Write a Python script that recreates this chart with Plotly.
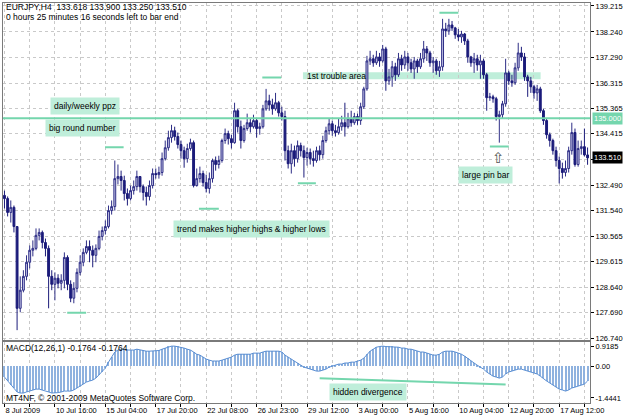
import plotly.graph_objects as go

# ---------------- data (EURJPY H4) ----------------
first_open = 132.10
close = [
131.98, 131.46, 131.65, 130.93, 127.86, 128.54, 129.06, 129.59, 130.04, 130.11,
130.60, 130.71, 130.33, 130.11, 129.06, 128.76, 128.99, 128.80, 128.91, 129.77,
128.76, 128.24, 128.61, 129.21, 129.59, 129.96, 130.18, 130.04, 129.85, 130.11,
130.56, 130.78, 130.93, 131.53, 131.68, 132.73, 132.81, 132.66, 132.17, 131.98,
132.28, 132.43, 132.81, 132.43, 132.21, 132.06, 132.47, 132.92, 132.88, 132.96,
133.48, 133.89, 134.27, 134.53, 134.31, 134.01, 133.78, 133.48, 133.86, 134.08,
132.47, 132.73, 132.92, 132.58, 132.36, 132.73, 133.41, 133.26, 133.41, 134.16,
134.42, 134.23, 134.08, 135.28, 134.68, 134.16, 134.61, 134.83, 134.68, 134.91,
134.61, 134.68, 135.35, 135.65, 135.50, 135.35, 135.58, 135.20, 135.06, 133.78,
133.29, 133.78, 133.48, 133.97, 133.78, 133.52, 133.71, 133.48, 133.41, 133.78,
133.63, 134.16, 134.53, 134.79, 134.53, 134.46, 134.68, 134.83, 134.68, 134.98,
134.83, 135.06, 134.91, 135.43, 136.10, 137.15, 137.23, 137.08, 137.30, 137.15,
137.60, 136.40, 136.55, 136.93, 136.63, 137.23, 137.00, 137.30, 137.08, 136.85,
137.15, 136.93, 137.23, 137.60, 137.45, 137.08, 137.15, 136.78, 136.93, 138.35,
138.28, 138.50, 138.39, 138.13, 138.05, 138.16, 137.90, 137.30, 137.08, 137.23,
137.00, 137.15, 136.63, 135.77, 135.80, 135.73, 135.06, 135.13, 135.54, 136.70,
136.40, 136.33, 136.89, 137.45, 137.30, 136.55, 136.40, 136.18, 135.95, 136.10,
135.28, 134.91, 134.38, 134.16, 133.78, 133.41, 133.11, 132.96, 133.11, 133.78,
134.46, 133.26, 133.86, 133.93, 133.62, 133.51]

high = [
132.28, 132.06, 131.91, 131.72, 130.93, 129.06, 129.29, 129.85, 130.22, 130.41,
130.86, 130.86, 130.78, 130.48, 130.22, 129.29, 129.21, 129.14, 129.14, 129.96,
129.85, 128.91, 128.84, 129.36, 129.85, 130.11, 130.41, 130.41, 130.22, 130.26,
130.78, 130.93, 131.16, 131.72, 131.91, 133.41, 133.26, 133.03, 132.84, 132.36,
132.47, 132.66, 133.03, 132.81, 132.51, 132.43, 132.66, 133.11, 133.11, 133.18,
133.71, 134.16, 134.53, 134.75, 134.68, 134.46, 134.16, 133.93, 134.04, 134.23,
134.16, 133.11, 133.18, 133.03, 132.88, 132.96, 133.48, 133.56, 133.59, 134.23,
134.61, 134.53, 134.38, 135.58, 135.35, 134.91, 134.75, 135.17, 134.98, 135.13,
134.98, 134.83, 135.50, 136.10, 135.88, 135.73, 135.95, 135.65, 135.43, 135.28,
133.97, 134.04, 133.97, 134.16, 134.08, 133.97, 133.89, 133.86, 133.78, 133.93,
133.97, 134.34, 134.68, 134.98, 134.91, 134.75, 134.98, 135.09, 135.58, 135.20,
135.28, 135.20, 135.17, 135.58, 136.18, 137.34, 137.53, 137.38, 137.53, 137.45,
137.75, 137.68, 136.85, 137.15, 137.08, 137.45, 137.38, 137.53, 137.45, 137.23,
137.30, 137.23, 137.45, 137.90, 137.71, 137.53, 137.30, 137.23, 137.15, 138.73,
138.58, 138.73, 138.65, 138.43, 138.35, 138.28, 138.20, 137.98, 137.34, 137.45,
137.38, 137.38, 137.23, 136.70, 135.95, 135.88, 135.80, 135.28, 135.65, 137.23,
136.78, 136.63, 137.08, 137.83, 137.68, 137.45, 136.63, 136.55, 136.25, 136.25,
136.18, 135.35, 134.98, 134.46, 134.23, 133.93, 133.56, 133.33, 133.41, 133.93,
134.83, 134.61, 134.16, 134.16, 134.61, 133.90]

low = [
131.61, 131.31, 131.08, 130.71, 127.04, 127.71, 128.46, 128.91, 129.36, 129.81,
130.04, 130.41, 130.11, 129.81, 127.86, 128.54, 128.16, 128.61, 128.54, 128.61,
128.54, 128.09, 128.05, 128.46, 129.10, 129.44, 129.89, 129.59, 129.40, 129.59,
130.04, 130.41, 130.63, 130.86, 131.38, 131.53, 132.51, 132.28, 131.91, 131.72,
131.91, 132.13, 132.28, 132.21, 131.91, 131.72, 131.91, 132.36, 132.73, 132.73,
132.84, 133.41, 133.78, 134.08, 134.16, 133.86, 133.48, 133.14, 133.33, 133.78,
132.40, 132.43, 132.58, 132.43, 132.21, 132.17, 132.58, 133.03, 133.11, 133.33,
134.04, 134.01, 133.86, 134.04, 134.46, 133.86, 134.08, 134.53, 134.46, 134.61,
134.27, 134.38, 134.61, 135.28, 135.28, 135.13, 135.28, 135.06, 134.91, 133.41,
133.11, 132.92, 133.18, 133.33, 133.56, 132.77, 133.22, 133.26, 133.18, 133.33,
133.41, 133.48, 134.08, 134.38, 134.34, 134.31, 134.38, 134.53, 134.31, 134.61,
134.68, 134.75, 134.75, 134.75, 135.35, 136.03, 137.00, 136.93, 137.00, 136.93,
137.08, 136.03, 136.25, 136.18, 136.40, 136.55, 136.78, 136.85, 136.78, 136.70,
136.48, 136.70, 136.85, 137.08, 137.15, 136.93, 136.70, 136.63, 136.55, 136.78,
138.05, 138.13, 138.28, 137.98, 137.90, 137.83, 137.75, 137.08, 136.93, 136.70,
136.78, 136.48, 136.48, 135.28, 135.65, 135.58, 134.91, 134.08, 134.98, 135.43,
136.25, 136.18, 136.25, 136.78, 137.15, 136.40, 135.80, 135.95, 135.73, 135.65,
135.20, 134.75, 134.23, 133.93, 133.63, 133.18, 132.55, 132.73, 132.81, 132.96,
133.63, 133.18, 133.18, 133.63, 133.56, 133.25]

macd = [
-0.49, -0.67, -0.85, -0.99, -1.17, -1.22, -1.22, -1.17, -1.13, -1.08,
-1.04, -1.04, -1.08, -1.10, -1.17, -1.22, -1.22, -1.20, -1.17, -1.13,
-1.13, -1.13, -1.08, -0.99, -0.90, -0.81, -0.72, -0.67, -0.63, -0.54,
-0.40, -0.26, -0.08, 0.19, 0.42, 0.65, 0.74, 0.78, 0.78, 0.74,
0.74, 0.74, 0.78, 0.74, 0.72, 0.69, 0.69, 0.69, 0.69, 0.72,
0.78, 0.83, 0.90, 0.92, 0.92, 0.90, 0.87, 0.83, 0.78, 0.74,
0.65, 0.55, 0.51, 0.42, 0.33, 0.28, 0.24, 0.24, 0.24, 0.28,
0.33, 0.37, 0.42, 0.51, 0.55, 0.55, 0.55, 0.55, 0.55, 0.60,
0.60, 0.60, 0.65, 0.69, 0.69, 0.69, 0.69, 0.69, 0.65, 0.51,
0.42, 0.33, 0.24, 0.15, 0.05, -0.04, -0.08, -0.13, -0.17, -0.22,
-0.22, -0.17, -0.13, -0.04, 0.01, 0.05, 0.10, 0.10, 0.15, 0.15,
0.19, 0.19, 0.24, 0.28, 0.37, 0.55, 0.69, 0.78, 0.87, 0.90,
0.92, 0.90, 0.90, 0.90, 0.87, 0.87, 0.83, 0.83, 0.78, 0.78,
0.74, 0.69, 0.65, 0.65, 0.60, 0.55, 0.51, 0.51, 0.55, 0.65,
0.69, 0.69, 0.69, 0.65, 0.60, 0.55, 0.46, 0.37, 0.24, 0.15,
0.05, -0.04, -0.13, -0.26, -0.35, -0.45, -0.49, -0.54, -0.49, -0.35,
-0.26, -0.22, -0.17, -0.13, -0.13, -0.17, -0.22, -0.26, -0.31, -0.35,
-0.45, -0.54, -0.67, -0.76, -0.85, -0.95, -1.04, -1.08, -1.13, -1.08,
-0.99, -0.95, -0.90, -0.85, -0.81, -0.67]

date_labels = ['8 Jul 2009', '10 Jul 16:00', '15 Jul 04:00', '17 Jul 20:00',
               '22 Jul 08:00', '26 Jul 23:00', '29 Jul 12:00', '3 Aug 00:00',
               '5 Aug 16:00', '10 Aug 04:00', '12 Aug 20:00', '17 Aug 12:00']
price_ticks = [139.215, 138.240, 137.290, 136.315, 135.365, 134.415, 133.465,
               132.490, 131.540, 130.565, 129.615, 128.640, 127.690, 126.740]
macd_ticks = [0.9185, 0.0, -1.4441]
macd_tick_text = ['0.9185', '0.00', '-1.4441']

round_level = 135.000
last_price = 133.510

# ---------------- build ----------------
opens = [first_open] + close[:-1]
hi = [max(h, o, c) for h, o, c in zip(high, opens, close)]
lo = [min(l, o, c) for l, o, c in zip(low, opens, close)]
idx = list(range(len(close)))

GREEN = '#74d6ad'
BOXBG = '#bfeeda'
GRID = '#c9c9c9'
FONT = 'Liberation Sans'

fig = go.Figure()
fig.add_trace(go.Candlestick(
    x=idx, open=opens, high=hi, low=lo, close=close,
    increasing=dict(line=dict(color='#2e2e86', width=1), fillcolor='#c6c6e8'),
    decreasing=dict(line=dict(color='#1b1b7a', width=1), fillcolor='#1b1b7a'),
    whiskerwidth=0, xaxis='x', yaxis='y', hoverinfo='skip', showlegend=False))
fig.add_trace(go.Bar(x=idx, y=macd, width=0.32,
                     marker=dict(color='#8fb2df', line=dict(width=0)),
                     xaxis='x2', yaxis='y2', showlegend=False, hoverinfo='skip'))
fig.add_trace(go.Scatter(x=idx, y=macd, mode='lines',
                         line=dict(color='#5b8fd3', width=1),
                         xaxis='x2', yaxis='y2', showlegend=False, hoverinfo='skip'))

n = len(close)
grid_vals = list(range(0, n, 8))
label_pos = [16 * i for i in range(len(date_labels))]
x_text = [date_labels[label_pos.index(v)] if v in label_pos else '' for v in grid_vals]

xr = [-0.47, 185.77]
axis_line = dict(showline=True, mirror=True, linecolor='#7a7a7a', linewidth=1, zeroline=False)

fig.update_layout(
    width=625, height=419,
    margin=dict(l=2, r=30, t=2, b=16),
    paper_bgcolor='white', plot_bgcolor='white',
    showlegend=False, bargap=0, boxgap=0.15,
    font=dict(family=FONT, size=8, color='black'),
    xaxis=dict(domain=[0, 1], anchor='y', range=xr, tickvals=grid_vals,
               showticklabels=False, ticks='', showgrid=True, gridcolor=GRID,
               griddash='dot', gridwidth=1, rangeslider=dict(visible=False),
               **axis_line),
    xaxis2=dict(domain=[0, 1], anchor='y2', range=xr, matches='x',
                tickvals=grid_vals, ticktext=x_text, ticklabelposition='outside right',
                tickangle=0, ticks='outside', ticklen=3, tickcolor='#000000',
                tickfont=dict(size=7.5, family=FONT, color='black'),
                showgrid=True, gridcolor=GRID, griddash='dot', gridwidth=1,
                **axis_line),
    yaxis=dict(domain=[0.1571, 1], anchor='x', range=[126.664, 139.325], side='right',
               tickvals=price_ticks,
               ticktext=[('%.3f' % v) if abs(v - 133.465) > 1e-6 else '' for v in price_ticks],
               ticks='outside', ticklen=3, tickcolor='#000000',
               tickfont=dict(size=7.5, family=FONT, color='black'),
               showgrid=True, gridcolor=GRID, griddash='dot', gridwidth=1,
               **axis_line),
    yaxis2=dict(domain=[0, 0.1521], anchor='x2', range=[-1.673, 1.10], side='right',
                tickvals=macd_ticks, ticktext=macd_tick_text,
                ticks='outside', ticklen=3, tickcolor='#000000',
                tickfont=dict(size=7.5, family=FONT, color='black'),
                showgrid=False, **axis_line),
)

shapes = []
# 135.000 daily/weekly level
shapes.append(dict(type='line', xref='x domain', yref='y', x0=0, x1=1,
                   y0=round_level, y1=round_level, line=dict(color=GREEN, width=2)))
# 1st trouble area band
shapes.append(dict(type='rect', xref='x', yref='y', x0=94.7, x1=170.1,
                   y0=136.46, y1=136.72, fillcolor=BOXBG, line=dict(width=0),
                   layer='below'))
# swing high/low markers
for xa, xb, p in [(19.9, 25.9, 127.69), (61.7, 68.0, 131.60), (31.9, 37.8, 133.91),
                  (81.8, 87.8, 136.53), (93.1, 98.8, 132.56), (138.0, 144.0, 138.96),
                  (154.0, 160.0, 133.94)]:
    shapes.append(dict(type='line', xref='x', yref='y', x0=xa, x1=xb, y0=p, y1=p,
                       line=dict(color=GREEN, width=2)))
# hidden divergence line in MACD
shapes.append(dict(type='line', xref='x2', yref='y2', x0=100, x1=159,
                   y0=-0.54, y1=-0.83, line=dict(color=GREEN, width=2)))
fig.update_layout(shapes=shapes)

ann = []
def box(text, x, y, xref='x', yref='y', xanchor='center'):
    ann.append(dict(text=text, x=x, y=y, xref=xref, yref=yref, xanchor=xanchor,
                    yanchor='middle', showarrow=False, bgcolor=BOXBG, borderpad=3,
                    font=dict(size=8.5, family=FONT, color='black')))

box('daily/weekly ppz', 25.6, 135.45)
box('big round number', 24.8, 134.62)
box('trend makes higher highs &amp; higher lows', 78.4, 130.84)
box('large pin bar', 152.5, 132.88)
box('hidden divergence', 115.4, -1.15, xref='x2', yref='y2')
ann.append(dict(text='1st trouble area', x=95.4, y=136.60, xref='x', yref='y',
                xanchor='left', yanchor='middle', showarrow=False,
                font=dict(size=8.5, family=FONT, color='black')))
ann.append(dict(text='\u21e7', x=156.6, y=133.52, xref='x', yref='y',
                showarrow=False, font=dict(size=15, family='DejaVu Sans', color='#555555')))

def plain(text, px, py):
    ann.append(dict(text=text, x=(px - 2) / 593, y=(403 - py) / 401, xref='paper',
                    yref='paper', xanchor='left', yanchor='middle', showarrow=False,
                    font=dict(size=8.5, family=FONT, color='black')))

plain('EURJPY,H4\u00a0\u00a0133.618 133.900 133.250 133.510', 3, 6.5)
plain('0 hours 25 minutes 16 seconds left to bar end', 3, 16.5)
plain('MACD(12,26,1) -0.1764 -0.1764', 3, 348)
plain('MT4NF, \u00a9 2001-2009 MetaQuotes Software Corp.', 3, 398)

for val, bg in [(round_level, GREEN), (last_price, '#000000')]:
    ann.append(dict(text='%.3f' % val, x=1, y=val, xref='paper', yref='y',
                    xanchor='left', yanchor='middle', xshift=2, showarrow=False,
                    bgcolor=bg, borderpad=1,
                    font=dict(size=7.5, family=FONT, color='white')))
fig.update_layout(annotations=ann)

fig.write_html('out.html')
